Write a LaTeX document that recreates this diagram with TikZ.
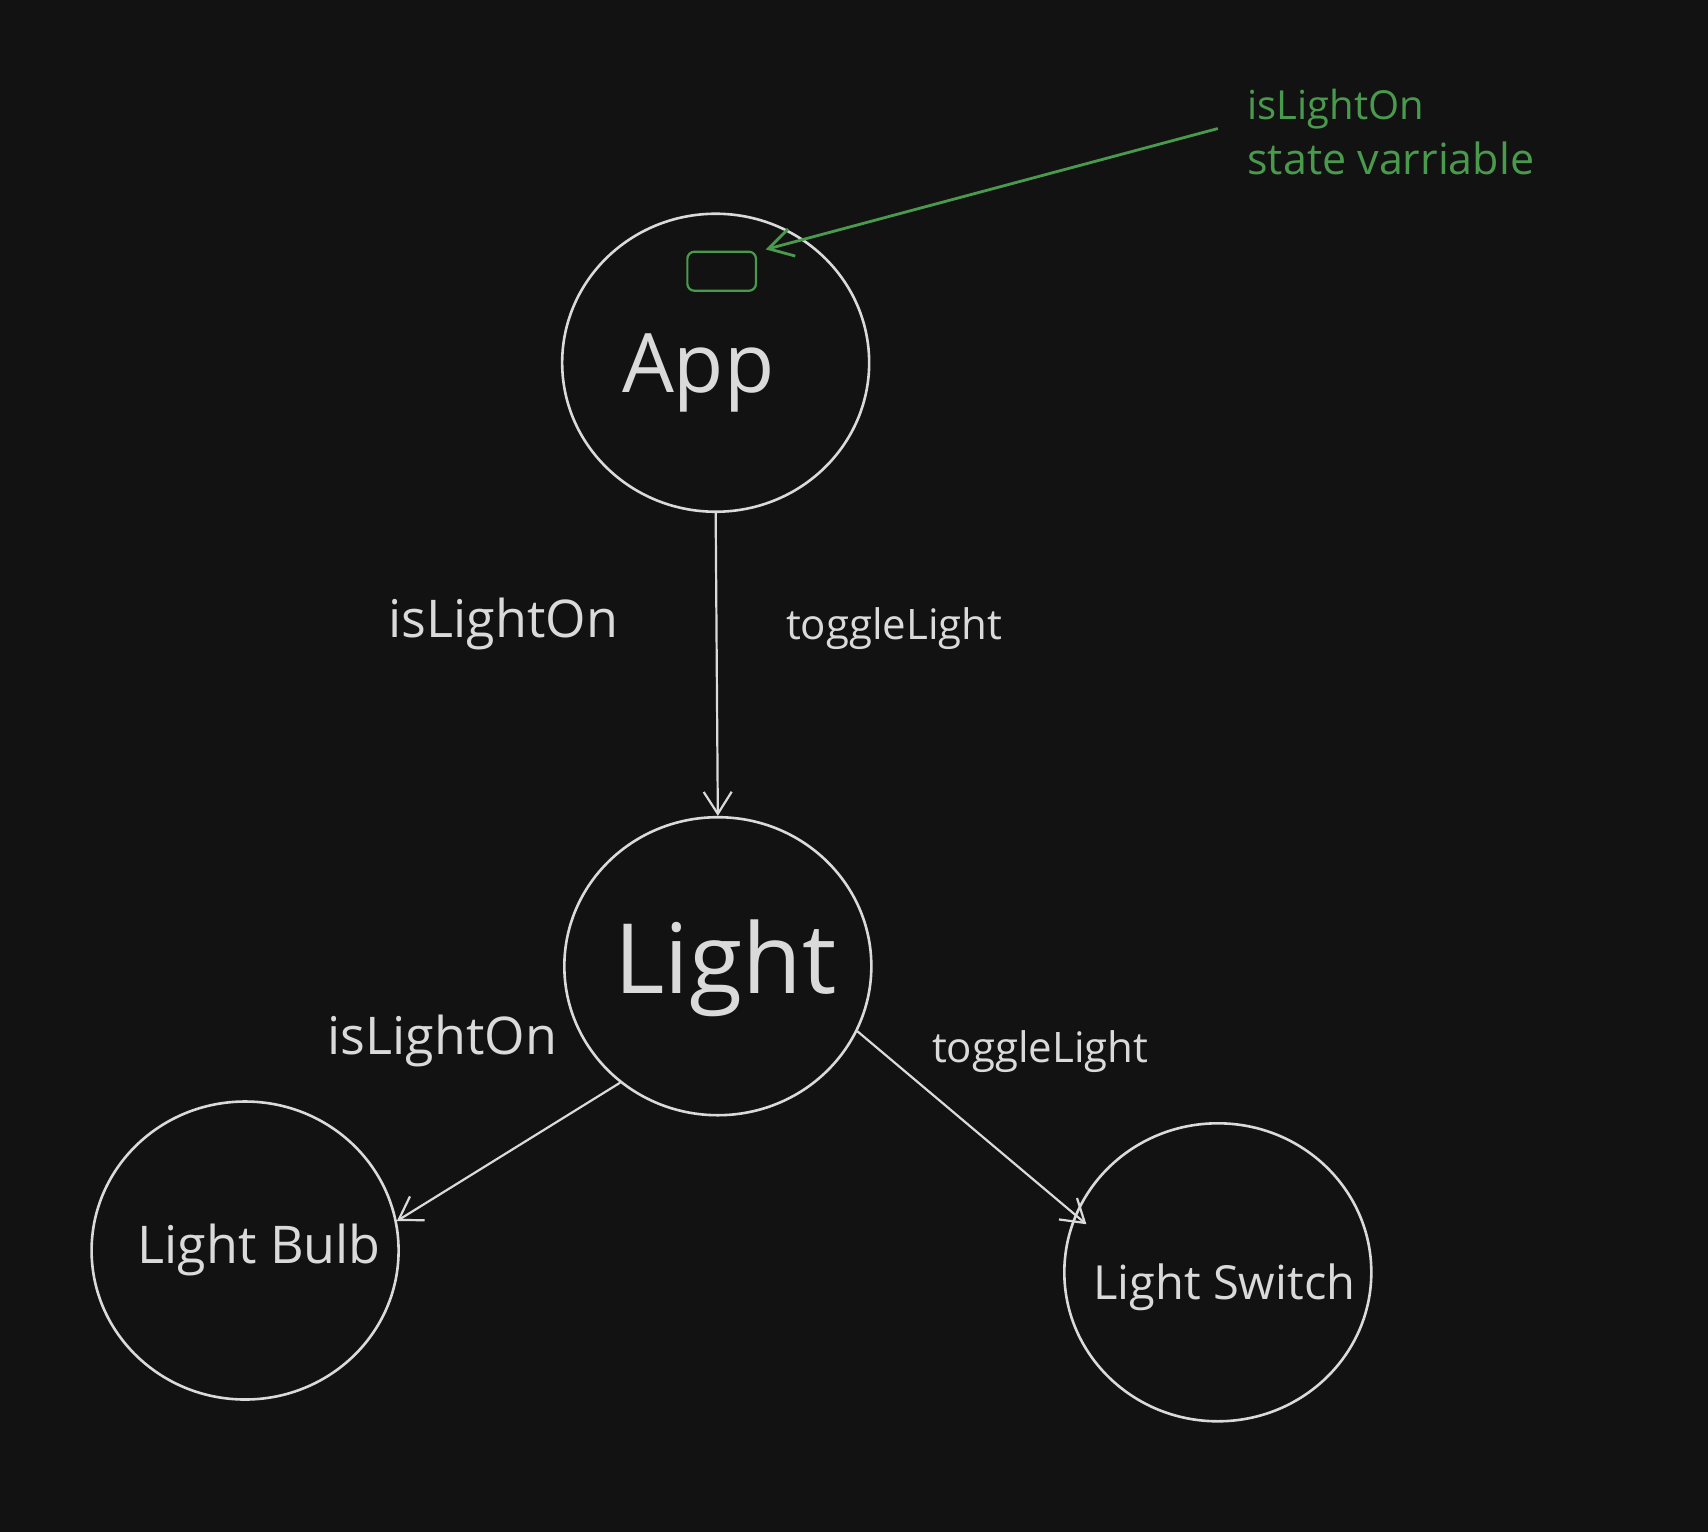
\documentclass[tikz,border=0pt]{standalone}
\usepackage{fontspec}
\setmainfont{Open Sans}
\usetikzlibrary{shapes.geometric,arrows.meta}
\definecolor{bgc}{HTML}{121212}
\definecolor{fgc}{HTML}{DADADA}
\definecolor{grn}{HTML}{4A9A4E}
\newcommand{\fs}[1]{\fontsize{#1}{#1}\selectfont}
\tikzset{
  comp/.style={ellipse, draw=fgc, line width=2.6pt, minimum width=307pt, minimum height=298pt, inner sep=0pt},
  lbl/.style={text=fgc, anchor=base, inner sep=0pt},
  conn/.style={draw=fgc, line width=2.2pt, -{Straight Barb[length=22pt,width=28pt,line width=2.2pt]}},
  gconn/.style={draw=grn, line width=2.8pt, -{Straight Barb[length=24pt,width=28pt,line width=2.8pt]}}
}
\begin{document}
\begin{tikzpicture}[x=1.0893pt,y=-1.0893pt]
\fill[bgc] (0,0) rectangle (1568,1406);
\useasboundingbox (0,0) rectangle (1568,1406);
% components
\node[comp] (app) at (657,333) {};
\node[comp] (light) at (659,887) {};
\node[comp] (bulb) at (225,1148) {};
\node[comp] (switch) at (1118,1168) {};
% state rectangle
\node[draw=grn, line width=2.2pt, rounded corners=7pt, minimum width=68.6pt, minimum height=39pt, inner sep=0pt] (state) at (662.5,249) {};
% titles
\node[lbl, font=\fs{82}] (tapp) at (641,360) {App};
\node[lbl, font=\fs{97}] (tlight) at (666,912) {Light};
\node[lbl, font=\fs{52}] (tbulb) at (238,1160) {Light Bulb};
\node[lbl, font=\fs{47}] (tswitch) at (1124,1193) {Light Switch};
% connector labels
\node[lbl, font=\fs{52}] (l1) at (462,585) {isLightOn};
\node[lbl, font=\fs{42}] (l2) at (821,587) {toggleLight};
\node[lbl, font=\fs{52}] (l3) at (406,968) {isLightOn};
\node[lbl, font=\fs{42}] (l4) at (955,975) {toggleLight};
% green annotation
\node[text=grn, anchor=base west, inner sep=0pt, font=\fs{40}] (g1) at (1145,110) {isLightOn};
\node[text=grn, anchor=base west, inner sep=0pt, font=\fs{43}] (g2) at (1145,160) {state varriable};
\coordinate (gs) at (1118,118);
\coordinate (ge) at (703,229);
% connectors
\draw[conn] (app.south) -- (light.north);
\draw[conn] (light.230) -- (bulb.11);
\draw[conn, shorten >=-15pt] (light.-25) -- (switch.158);
\draw[gconn] (gs) -- (ge);
\end{tikzpicture}
\end{document}
